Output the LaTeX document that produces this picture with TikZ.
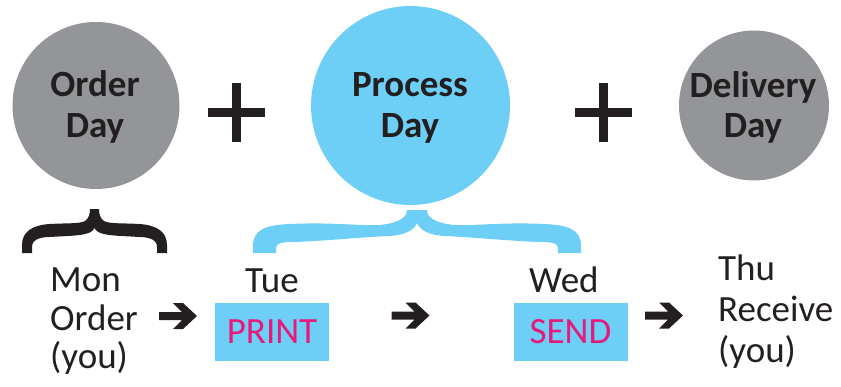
\documentclass[tikz,border=0pt]{standalone}
\usepackage{fontspec}
\setmainfont{Carlito}
\definecolor{circgray}{HTML}{939598}
\definecolor{skyblue}{HTML}{6DCFF6}
\definecolor{hotpink}{HTML}{E8197A}
\definecolor{inkblack}{HTML}{231F20}
\tikzset{
  daycirc/.style={circle, inner sep=0pt, draw=none},
  boldlbl/.style={font=\fontsize{37}{42}\selectfont\bfseries, text=inkblack, inner sep=0pt, anchor=base},
  plainlbl/.style={font=\fontsize{37}{41}\selectfont, text=inkblack, inner sep=0pt, anchor=base west},
  taskbox/.style={rectangle, fill=skyblue, inner sep=0pt, minimum width=114pt, minimum height=58pt,
    font=\fontsize{37}{41}\selectfont, text=hotpink},
  plusline/.style={draw=inkblack, line width=8.5pt},
  pics/fatarrow/.style={code={
    \fill[inkblack] (-19,-4) -- (4,-4) -- (-5,-13) -- (5,-13) -- (19,0) -- (5,13) -- (-5,13) -- (4,4) -- (-19,4) -- cycle;
  }}
}
\begin{document}
\begin{tikzpicture}[x=1pt,y=-1pt]
\useasboundingbox (0,0) rectangle (841,386);
% circles
\node[daycirc, fill=circgray, minimum size=167pt] (order) at (96,105.5) {};
\node[daycirc, fill=skyblue, minimum size=199pt] (process) at (410.5,105.5) {};
\node[daycirc, fill=circgray, minimum size=150pt] (delivery) at (754,105.5) {};
\node[boldlbl] (order1) at (95,96) {Order};
\node[boldlbl] (order2) at (95,137) {Day};
\node[boldlbl] (process1) at (410,96) {Process};
\node[boldlbl] (process2) at (410,137) {Day};
\node[boldlbl] (delivery1) at (753,97) {Delivery};
\node[boldlbl] (delivery2) at (753,137) {Day};
% plus signs
\coordinate (p1) at (236.5,112.5);
\coordinate (p2) at (603.5,112.5);
\draw[plusline] ([xshift=-28.5pt]p1) -- ([xshift=28.5pt]p1);
\draw[plusline] ([yshift=29.5pt]p1) -- ([yshift=-29.5pt]p1);
\draw[plusline] ([xshift=-28.5pt]p2) -- ([xshift=28.5pt]p2);
\draw[plusline] ([yshift=29.5pt]p2) -- ([yshift=-29.5pt]p2);
% black brace
\fill[inkblack] (22,253) -- (22,245) .. controls (22,232) and (32,225) .. (50,224)
  .. controls (65,223) and (80,224) .. (85,221) .. controls (89,218) and (90,214) .. (90,209)
  -- (99,209) .. controls (99,214) and (100,218) .. (104,221) .. controls (109,224) and (124,223) .. (139,224)
  .. controls (157,225) and (167,232) .. (167,245) -- (167,253) -- (157,253) -- (157,247)
  .. controls (157,240) and (150,237) .. (139,237) .. controls (125,236) and (112,236) .. (104,234)
  .. controls (99,233) and (96,231) .. (94.5,228) .. controls (93,231) and (90,233) .. (85,234)
  .. controls (77,236) and (64,236) .. (50,237) .. controls (39,237) and (32,240) .. (32,247)
  -- (32,253) -- cycle;
% blue brace
\fill[skyblue] (253,253) -- (253,246) .. controls (253,230) and (265,225) .. (290,224)
  .. controls (330,222) and (360,226) .. (380,225) .. controls (398,223) and (407,218) .. (407,210)
  -- (427,210) .. controls (427,218) and (436,223) .. (454,225) .. controls (474,226) and (504,222) .. (544,224)
  .. controls (569,225) and (581,230) .. (581,246) -- (581,253) -- (558,253) -- (558,248)
  .. controls (558,243) and (552,242) .. (540,242) .. controls (510,241) and (470,237) .. (445,236)
  .. controls (428,235) and (420,230) .. (417,223) .. controls (414,230) and (406,235) .. (389,236)
  .. controls (364,237) and (324,241) .. (294,242) .. controls (282,242) and (276,243) .. (276,248)
  -- (276,253) -- cycle;
% bottom texts
\node[plainlbl] (mon) at (50,291) {Mon};
\node[plainlbl] (monorder) at (50,330) {Order};
\node[plainlbl] (monyou) at (50,368) {(you)};
\node[plainlbl] (tue) at (245,292) {Tue};
\node[plainlbl] (wed) at (529,292) {Wed};
\node[plainlbl] (thu) at (718,280) {Thu};
\node[plainlbl] (thurecv) at (718,321) {Receive};
\node[plainlbl] (thuyou) at (718,362) {(you)};
% task boxes
\node[taskbox] (print) at (272,332) {PRINT};
\node[taskbox] (send) at (570.5,332) {SEND};
% arrows
\pic at (178,316) {fatarrow};
\pic at (410.5,315.5) {fatarrow};
\pic at (664,315.5) {fatarrow};
\end{tikzpicture}
\end{document}
